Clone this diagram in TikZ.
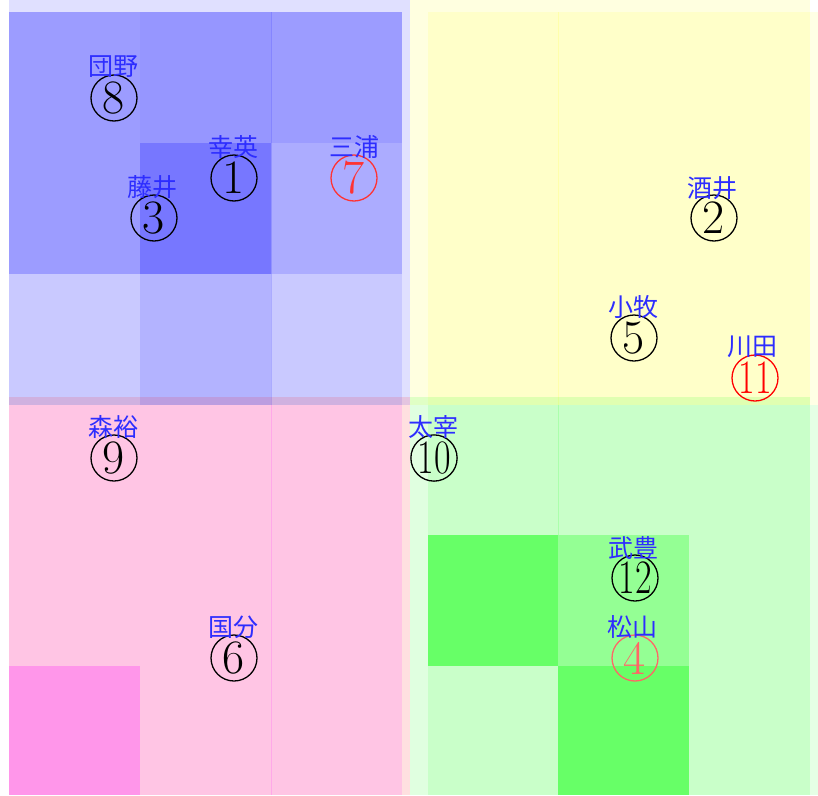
\documentclass[tikz,border=0pt]{standalone}
\usepackage{fontspec}
\usepackage{graphicx}
\newfontfamily\cjk{Noto Sans CJK JP}
\definecolor{lblblue}{RGB}{45,45,255}
\definecolor{qblue}{RGB}{0,0,255}
\definecolor{qyellow}{RGB}{255,255,0}
\definecolor{qred}{RGB}{255,0,0}
\definecolor{qmag}{RGB}{255,0,255}
\definecolor{qgreen}{RGB}{0,255,0}
\definecolor{red80}{RGB}{255,51,51}
\definecolor{red60}{RGB}{255,102,102}
\tikzset{
  faint/.style={fill=#1, opacity=0.12},
  cellb/.style={fill=qblue, opacity=#1},
  celly/.style={fill=qyellow, opacity=#1},
  cellm/.style={fill=qmag, opacity=#1},
  cellg/.style={fill=qgreen, opacity=#1},
  seam/.style={draw=#1, opacity=0.15, line width=0.8pt},
  numc/.style={circle, draw=#1, text=#1, line width=1.3pt, minimum size=46pt, inner sep=0pt, font=\fontsize{48}{48}\selectfont},
  lbl/.style={text=lblblue, inner sep=0pt, font=\cjk\fontsize{25}{25}\selectfont}
}
\begin{document}
\begin{tikzpicture}[x=1pt,y=-1pt]
\useasboundingbox (0,0) rectangle (818,795);
% blue quadrant
\path[faint=qblue] (9,0) rectangle (410,405);
\path[cellb=0.30] (9,12) rectangle (140,143);
\path[cellb=0.33] (140,12) rectangle (271,143);
\path[cellb=0.30] (271,12) rectangle (402,143);
\path[cellb=0.30] (9,143) rectangle (140,274);
\path[cellb=0.47] (140,143) rectangle (271,274);
\path[cellb=0.23] (271,143) rectangle (402,274);
\path[cellb=0.10] (9,274) rectangle (140,405);
\path[cellb=0.20] (140,274) rectangle (271,405);
\path[cellb=0.10] (271,274) rectangle (402,405);
\path[seam=qblue] (271,12) -- (271,405);
% yellow quadrant
\path[faint=qyellow] (410,0) rectangle (810,405);
\path[celly=0.10] (428,12) rectangle (818,405);
\path[seam=qyellow] (558,12) -- (558,405);
% pink quadrant
\path[faint=qred] (9,397) rectangle (410,795);
\path[cellm=0.12] (9,405) rectangle (402,666);
\path[cellm=0.12] (140,666) rectangle (402,795);
\path[cellm=0.33] (9,666) rectangle (140,795);
\path[seam=qmag] (271,405) -- (271,795);
% green quadrant
\path[faint=qgreen] (410,397) rectangle (810,795);
\path[cellg=0.10] (428,405) rectangle (818,535);
\path[cellg=0.54] (428,535) rectangle (558,666);
\path[cellg=0.34] (558,535) rectangle (689,666);
\path[cellg=0.10] (689,535) rectangle (818,666);
\path[cellg=0.10] (428,666) rectangle (558,795);
\path[cellg=0.54] (558,666) rectangle (689,795);
\path[cellg=0.10] (689,666) rectangle (818,795);
\path[seam=qgreen] (558,405) -- (558,535);
% circled numbers
\node[numc=black] (n8) at (114,98) {8};
\node[numc=black] (n1) at (234,178) {1};
\node[numc=red80] (n7) at (354,178) {7};
\node[numc=black] (n3) at (154,218) {3};
\node[numc=black] (n2) at (714,218) {2};
\node[numc=black] (n5) at (634,338) {5};
\node[numc=qred] (n11) at (755,378) {\scalebox{0.75}[1]{11}};
\node[numc=black] (n9) at (114,458) {9};
\node[numc=black] (n6) at (234,658) {6};
\node[numc=black] (n10) at (434,458) {\scalebox{0.75}[1]{10}};
\node[numc=black] (n12) at (635,578) {\scalebox{0.75}[1]{12}};
\node[numc=red60] (n4) at (635,658) {4};
% labels
\node[lbl] (l8) at (113,67) {団野};
\node[lbl] (l1) at (233,147) {幸英};
\node[lbl] (l7) at (354,147) {三浦};
\node[lbl] (l3) at (152,187) {藤井};
\node[lbl] (l2) at (712,188) {酒井};
\node[lbl] (l5) at (633,307) {小牧};
\node[lbl] (l11) at (752,347) {川田};
\node[lbl] (l9) at (113,427) {森裕};
\node[lbl] (l6) at (233,627) {国分};
\node[lbl] (l10) at (433,427) {太宰};
\node[lbl] (l12) at (633,548) {武豊};
\node[lbl] (l4) at (632,627) {松山};
\end{tikzpicture}
\end{document}
